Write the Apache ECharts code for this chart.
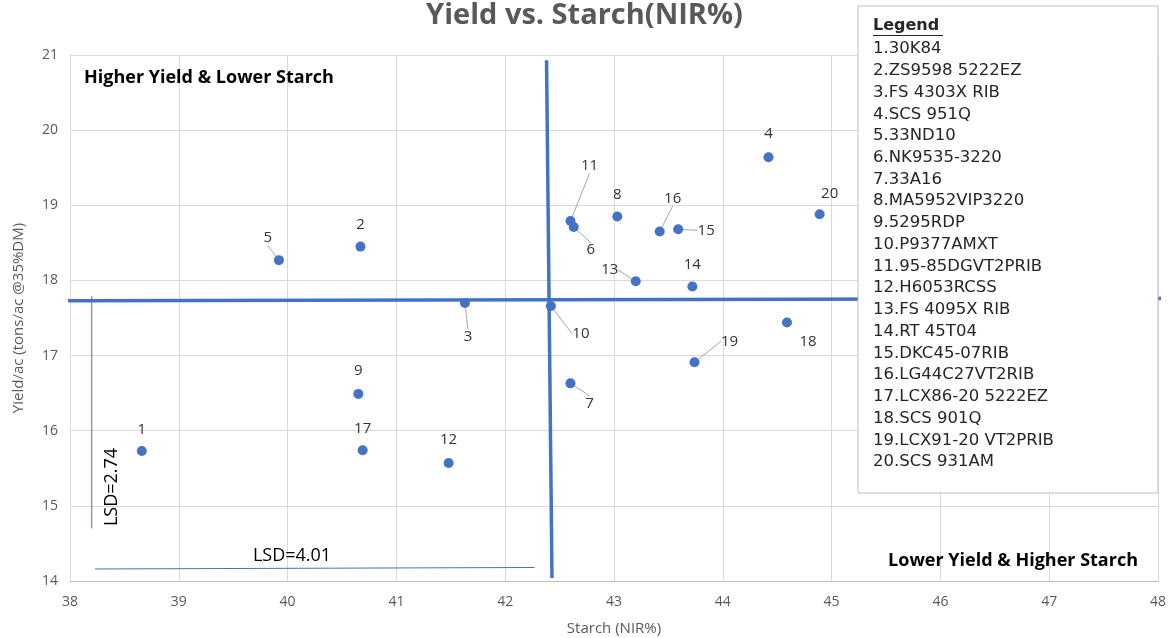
<!DOCTYPE html>
<html lang="en">
<head>
<meta charset="UTF-8">
<title>Yield vs. Starch(NIR%)</title>
<script src="https://cdn.jsdelivr.net/npm/echarts@6/dist/echarts.min.js"></script>
<style>html,body{margin:0;padding:0;background:#fff;}</style>
</head>
<body>
<div id="main" style="width:1169px;height:638px;"></div>
<script type="text/javascript">
// hybrids, in legend order (point label = index + 1)
var hybrids = ['30K84', 'ZS9598 5222EZ', 'FS 4303X RIB', 'SCS 951Q', '33ND10',
    'NK9535-3220', '33A16', 'MA5952VIP3220', '5295RDP', 'P9377AMXT',
    '95-85DGVT2PRIB', 'H6053RCSS', 'FS 4095X RIB', 'RT 45T04', 'DKC45-07RIB',
    'LG44C27VT2RIB', 'LCX86-20 5222EZ', 'SCS 901Q', 'LCX91-20 VT2PRIB', 'SCS 931AM'];
var starch = [38.66, 40.67, 41.63, 44.42, 39.92, 42.63, 42.60, 43.03, 40.65, 42.42,
    42.60, 41.48, 43.20, 43.72, 43.59, 43.42, 40.69, 44.59, 43.74, 44.89];
var yieldAc = [15.73, 18.45, 17.70, 19.64, 18.27, 18.71, 16.63, 18.85, 16.49, 17.66,
    18.79, 15.57, 17.99, 17.92, 18.68, 18.65, 15.74, 17.44, 16.91, 18.88];

// mean lines and LSD bars
var meanStarchLine = [[42.38, 20.93], [42.43, 14.04]];
var meanYieldLine = [[37.93, 17.73], [48.1, 17.76]];
var lsdYieldLine = [[38.20, 17.79], [38.20, 14.70]];
var lsdStarchLine = [[38.23, 14.16], [42.27, 14.18]];
var lsdYieldText = 'LSD=2.74';
var lsdStarchText = 'LSD=4.01';

var xTicks = { min: 38, max: 48, step: 1 };
var yTicks = { min: 14, max: 21, step: 1 };

// label placement (pixels from the point) and which ones get a leader line
var labelShift = [[0,-21],[0,-22],[3,34],[0,-23],[-11,-22],[17,23],[19,20],[0,-22],[0,-23],[30,28],
    [19,-55],[0,-23],[-26,-11],[0,-22],[28,1],[13,-33],[0,-22],[21,19],[35,-21],[10,-21]];
var withLeader = [3, 5, 6, 7, 10, 11, 13, 15, 16, 19];

var blue = '#4472C4';
var font = '"Open Sans", sans-serif';
var legendFont = '"DejaVu Sans", sans-serif';

var myChart = echarts.init(document.getElementById('main'));

var legendItems = [];
hybrids.forEach(function (h, i) {
    legendItems.push({
        type: 'text', x: 873, y: 49 + i * 21.74, z: 102,
        style: { text: (i + 1) + '.' + h, font: '16.5px ' + legendFont, fill: '#262626', verticalAlign: 'middle' }
    });
});

function lineSeries(data, width, z) {
    return {
        type: 'line', data: data, symbol: 'none', clip: false, z: z, silent: true,
        lineStyle: { color: blue, width: width }
    };
}

var option = {
    animation: false,
    backgroundColor: '#fff',
    title: {
        text: 'Yield vs. Starch(NIR%)', left: 'center', top: -4,
        textStyle: { fontFamily: font, fontSize: 29, fontWeight: 'bold', color: '#595959' }
    },
    grid: { left: 70, right: 11, top: 55, bottom: 57, outerBoundsMode: 'none', containLabel: false },
    xAxis: {
        type: 'value', min: xTicks.min, max: xTicks.max, interval: xTicks.step,
        name: 'Starch (NIR%)', nameLocation: 'middle', nameGap: 40,
        nameTextStyle: { fontFamily: font, fontSize: 15, color: '#595959' },
        axisLine: { show: true, lineStyle: { color: '#bfbfbf' } },
        axisTick: { show: false },
        axisLabel: { fontFamily: font, fontSize: 14, color: '#595959', margin: 14 },
        splitLine: { show: true, lineStyle: { color: '#d9d9d9' } }
    },
    yAxis: {
        type: 'value', min: yTicks.min, max: yTicks.max, interval: yTicks.step,
        name: 'Yield/ac (tons/ac @35%DM)', nameLocation: 'middle', nameGap: 44,
        nameTextStyle: { fontFamily: font, fontSize: 15, color: '#595959' },
        axisLine: { show: true, lineStyle: { color: '#d9d9d9' } },
        axisTick: { show: false },
        axisLabel: { fontFamily: font, fontSize: 14, color: '#595959', margin: 12 },
        splitLine: { show: true, lineStyle: { color: '#d9d9d9' } }
    },
    graphic: [
        { type: 'text', x: 84, y: 78, z: 50,
          style: { text: 'Higher Yield & Lower Starch', font: 'bold 18px ' + font, fill: '#000', verticalAlign: 'middle' } },
        { type: 'text', x: 1138, y: 561, z: 50,
          style: { text: 'Lower Yield & Higher Starch', font: 'bold 18px ' + font, fill: '#000', align: 'right', verticalAlign: 'middle' } },
        { type: 'text', x: 112, y: 487, rotation: Math.PI / 2, z: 50,
          style: { text: lsdYieldText, font: '18px ' + font, fill: '#000', align: 'center', verticalAlign: 'middle' } },
        { type: 'text', x: 292, y: 556, z: 50,
          style: { text: lsdStarchText, font: '18px ' + font, fill: '#000', align: 'center', verticalAlign: 'middle' } },
        { type: 'rect', shape: { x: 858, y: 6, width: 300, height: 487 }, z: 100,
          style: { fill: '#fff', stroke: '#bfbfbf', lineWidth: 1 } },
        { type: 'text', x: 873, y: 26, z: 102,
          style: { text: 'Legend', font: 'bold 16px ' + legendFont, fill: '#262626', verticalAlign: 'middle' } },
        { type: 'line', shape: { x1: 873, y1: 35.5, x2: 943, y2: 35.5 }, z: 102,
          style: { stroke: '#262626', lineWidth: 1 } }
    ].concat(legendItems),
    series: [
        lineSeries(meanStarchLine, 3.5, 2),
        lineSeries(meanYieldLine, 3.5, 2),
        lineSeries(lsdYieldLine, 1, 2),
        lineSeries(lsdStarchLine, 1, 2),
        {
            type: 'scatter', symbolSize: 10, z: 5,
            itemStyle: { color: blue, opacity: 1 },
            data: starch.map(function (s, i) {
                return {
                    value: [s, yieldAc[i]],
                    labelLine: { show: withLeader.indexOf(i + 1) >= 0 }
                };
            }),
            label: {
                show: true, position: 'inside', color: '#333333', fontSize: 15, fontFamily: font,
                formatter: function (p) { return String(p.dataIndex + 1); }
            },
            labelLayout: function (p) {
                var d = labelShift[p.dataIndex];
                return { dx: d[0], dy: d[1] };
            },
            labelLine: { show: true, lineStyle: { color: '#a6a6a6', width: 1 } }
        }
    ]
};
myChart.setOption(option);
</script>
</body>
</html>
